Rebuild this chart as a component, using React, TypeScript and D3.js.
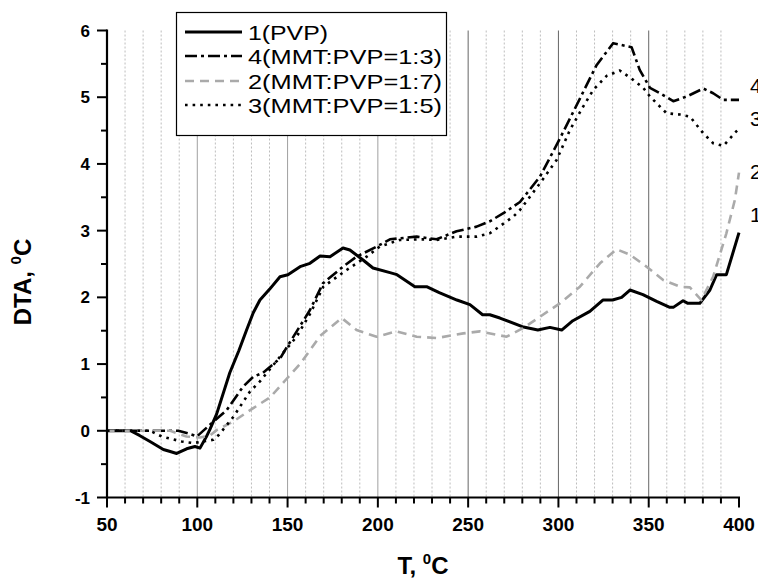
import React from "react";
import * as d3 from "d3";

const W = 758;
const H = 579;

// X tick labels and y tick labels
const xTicks = [50, 100, 150, 200, 250, 300, 350, 400];
const yTicks = [-1, 0, 1, 2, 3, 4, 5, 6];

// Series 1 (PVP)
const t1 = [50, 63, 68, 73.8, 81.2, 85, 88.6, 94.1, 98.7, 101.5, 105, 107, 110.7, 118, 123, 127.3, 131, 134.7, 140, 145.8, 150.2, 156.9, 162.4, 168, 173.5, 180.7, 184.5, 191.8, 197.3, 206.7, 210.6, 220.5, 227, 234, 243.8, 251, 258, 262, 267.6, 280, 288.6, 295.3, 301.8, 308, 317.4, 324.6, 330, 335, 339.6, 346.8, 354.4, 361.7, 363.6, 369, 371.7, 378.3, 383.9, 387.6, 393, 400];
const v1 = [0, 0, -0.07, -0.16, -0.28, -0.31, -0.34, -0.27, -0.235, -0.26, -0.09, 0.02, 0.25, 0.87, 1.2, 1.51, 1.77, 1.96, 2.12, 2.31, 2.34, 2.46, 2.51, 2.62, 2.61, 2.74, 2.71, 2.56, 2.44, 2.37, 2.34, 2.16, 2.16, 2.07, 1.96, 1.89, 1.74, 1.74, 1.69, 1.56, 1.51, 1.55, 1.51, 1.65, 1.79, 1.96, 1.96, 2.0, 2.11, 2.04, 1.94, 1.85, 1.85, 1.95, 1.91, 1.91, 2.11, 2.34, 2.34, 2.97];

// Series 4 (MMT:PVP=1:3)
const t4 = [50, 89.5, 95, 99.8, 107, 116.3, 125.3, 131, 136.4, 146, 149.5, 153, 162.4, 169.6, 180.7, 188.2, 199.3, 206.7, 221.5, 232.5, 243.6, 254.7, 262, 270, 278.7, 289.8, 300.8, 311.9, 321.1, 330.3, 340.5, 345, 350.7, 356.2, 363.6, 371, 380.2, 385.7, 391.3, 400];
const v4 = [0, 0, -0.04, -0.085, 0.09, 0.31, 0.66, 0.81, 0.87, 1.09, 1.25, 1.4, 1.81, 2.21, 2.46, 2.61, 2.76, 2.87, 2.91, 2.87, 2.99, 3.06, 3.14, 3.27, 3.43, 3.81, 4.38, 4.98, 5.48, 5.81, 5.75, 5.41, 5.14, 5.06, 4.94, 5.01, 5.13, 5.06, 4.96, 4.96];

// Series 2 (MMT:PVP=1:7)
const t2 = [50, 85, 94, 101.5, 107, 110.7, 120, 131, 140.3, 149.5, 156.9, 168, 180, 188.2, 199.3, 210.4, 221.5, 232.5, 247.3, 256.5, 271.3, 280.5, 289.8, 300.8, 311.9, 323, 332.2, 339.6, 348.8, 358, 367.3, 372.8, 379.2, 385.7, 393, 397.7, 400];
const v2 = [0, 0, -0.085, -0.1, -0.07, 0.01, 0.14, 0.34, 0.5, 0.78, 1.0, 1.42, 1.69, 1.51, 1.41, 1.49, 1.41, 1.39, 1.46, 1.49, 1.41, 1.54, 1.71, 1.91, 2.16, 2.51, 2.72, 2.64, 2.46, 2.26, 2.16, 2.15, 1.96, 2.31, 2.96, 3.46, 3.87];

// Series 3 (MMT:PVP=1:5)
const t3 = [50, 73.8, 80.2, 91.3, 97.8, 103, 108.9, 112, 120, 129.2, 134.7, 145.8, 155, 162.4, 169.8, 182.7, 193.8, 201, 212, 225, 232.5, 243.6, 254.7, 262, 275, 278.7, 289.8, 299, 306.4, 313.7, 319.3, 326.7, 334, 341.4, 347, 350.7, 359.9, 367.3, 372.8, 380.2, 385.7, 391.3, 398.6, 400];
const v3 = [0, 0, -0.085, -0.16, -0.185, -0.16, -0.135, -0.06, 0.21, 0.59, 0.74, 1.11, 1.41, 1.75, 2.16, 2.41, 2.61, 2.76, 2.86, 2.87, 2.86, 2.91, 2.91, 2.96, 3.21, 3.31, 3.71, 4.06, 4.51, 4.86, 5.11, 5.32, 5.4, 5.26, 5.14, 5.01, 4.76, 4.74, 4.71, 4.46, 4.31, 4.27, 4.49, 4.52];

const legendLabels = ["1(PVP)", "4(MMT:PVP=1:3)", "2(MMT:PVP=1:7)", "3(MMT:PVP=1:5)"];
const endLabels = ["4", "3", "2", "1"];

const FONT = "'Liberation Sans', Arial, Helvetica, sans-serif";

export default function App() {
  const x = d3.scaleLinear().domain([50, 400]).range([107, 739]);
  const y = d3.scaleLinear().domain([-1, 6]).range([497.5, 30.5]);

  const line = d3
    .line<[number, number]>()
    .x((d) => x(d[0]))
    .y((d) => y(d[1]));

  const zip = (t: number[], v: number[]) => t.map((tt, i) => [tt, v[i]] as [number, number]);

  const series = [
    { data: zip(t1, v1), stroke: "#000", width: 3, dash: "none" },
    { data: zip(t4, v4), stroke: "#000", width: 2.6, dash: "12,4,3,4" },
    { data: zip(t2, v2), stroke: "#aaaaaa", width: 2.6, dash: "9,6" },
    { data: zip(t3, v3), stroke: "#000", width: 2.6, dash: "2.6,5" },
  ];

  const minorX = d3.range(60, 400, 10).filter((v) => v % 50 !== 0);
  const majorGrid = [100, 150, 200, 250, 300, 350];
  const minorY = d3.range(-0.5, 6, 1);

  const legendRows = [32, 56, 81, 105];
  const legendWidths = [80, 194, 194, 194];
  const endY = [93, 126, 179, 222];

  return (
    <svg
      width={W}
      height={H}
      style={{ position: "absolute", left: 0, top: 0, background: "#fff" }}
      fontFamily={FONT}
    >
      <rect x={0} y={0} width={W} height={H} fill="#fff" />
      {/* minor grid */}
      {minorX.map((v) => (
        <line
          key={"mg" + v}
          x1={x(v)}
          x2={x(v)}
          y1={y(6)}
          y2={y(-1)}
          stroke="#bdbdbd"
          strokeWidth={1}
          strokeDasharray="2,2"
        />
      ))}
      {majorGrid.map((v) => (
        <line
          key={"MG" + v}
          x1={x(v)}
          x2={x(v)}
          y1={y(6)}
          y2={y(-1)}
          stroke={v <= 200 ? "#a0a0a0" : "#666"}
          strokeWidth={1}
        />
      ))}

      {/* curves */}
      {series.map((s, i) => (
        <path
          key={"s" + i}
          d={line(s.data) || ""}
          fill="none"
          stroke={s.stroke}
          strokeWidth={s.width}
          strokeDasharray={s.dash}
          strokeLinejoin="round"
        />
      ))}

      {/* axes */}
      <line x1={x(50)} x2={x(50)} y1={y(6) - 1} y2={y(-1) + 1} stroke="#000" strokeWidth={2.2} />
      <line x1={x(50) - 1} x2={x(400) + 1} y1={y(-1)} y2={y(-1)} stroke="#000" strokeWidth={2.2} />
      {yTicks.map((v) => (
        <g key={"yt" + v}>
          <line x1={x(50) - 10} x2={x(50)} y1={y(v)} y2={y(v)} stroke="#000" strokeWidth={2} />
          <text
            x={90}
            y={y(v) + 6}
            textAnchor="end"
            fontSize={17}
            fontWeight="bold"
          >
            {v}
          </text>
        </g>
      ))}
      {minorY.map((v) => (
        <line key={"ym" + v} x1={x(50) - 6} x2={x(50)} y1={y(v)} y2={y(v)} stroke="#000" strokeWidth={2} />
      ))}
      {xTicks.map((v) => (
        <g key={"xt" + v}>
          <line x1={x(v)} x2={x(v)} y1={y(-1)} y2={y(-1) + 10} stroke="#000" strokeWidth={2} />
          <text x={x(v)} y={531} textAnchor="middle" fontSize={19} fontWeight="bold">
            {v}
          </text>
        </g>
      ))}
      {minorX.map((v) => (
        <line key={"xm" + v} x1={x(v)} x2={x(v)} y1={y(-1)} y2={y(-1) + 6} stroke="#000" strokeWidth={2} />
      ))}

      {/* axis titles */}
      <text x={423} y={574} textAnchor="middle" fontSize={24} fontWeight="bold">
        T,{" "}
        <tspan fontSize={15} dy={-10}>
          0
        </tspan>
        <tspan dy={10}>C</tspan>
      </text>
      <text
        transform="translate(31,282) rotate(-90)"
        textAnchor="middle"
        fontSize={24}
        fontWeight="bold"
      >
        DTA,{" "}
        <tspan fontSize={15} dy={-10}>
          0
        </tspan>
        <tspan dy={10}>C</tspan>
      </text>

      {/* legend */}
      <rect x={176.5} y={12.5} width={270} height={123} fill="#fff" stroke="#000" strokeWidth={1.2} />
      {series.map((s, i) => (
        <g key={"lg" + i}>
          <line
            x1={185}
            x2={242}
            y1={legendRows[i]}
            y2={legendRows[i]}
            stroke={s.stroke}
            strokeWidth={s.width}
            strokeDasharray={s.dash}
          />
          <text
            x={248}
            y={legendRows[i] + 7.5}
            fontSize={21}
            textLength={legendWidths[i]}
            lengthAdjust="spacingAndGlyphs"
          >
            {legendLabels[i]}
          </text>
        </g>
      ))}

      {/* end labels (clipped at right edge) */}
      {endLabels.map((l, i) => (
        <text key={"el" + i} x={750} y={endY[i]} fontSize={21}>
          {l}
        </text>
      ))}
    </svg>
  );
}
